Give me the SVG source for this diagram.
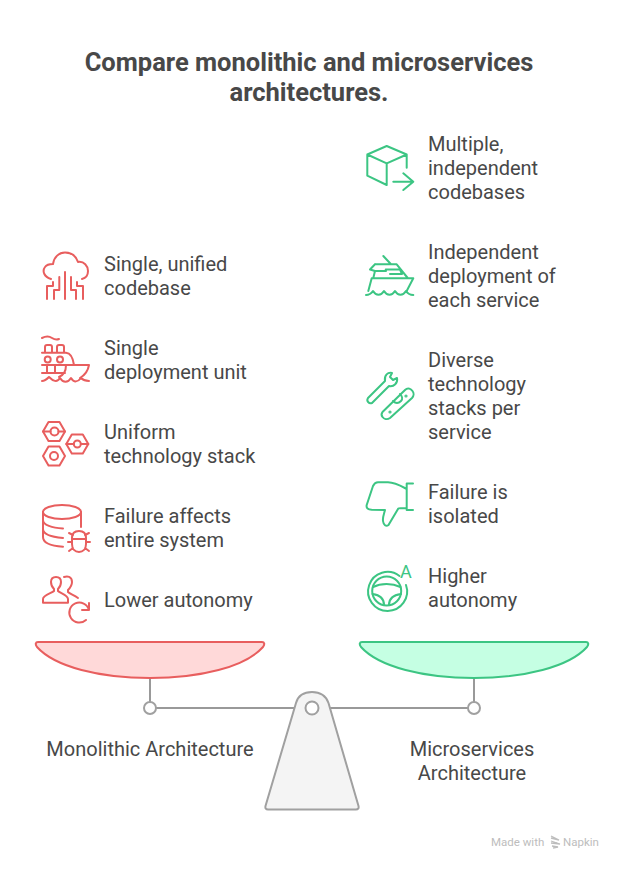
<svg xmlns="http://www.w3.org/2000/svg" width="624" height="869" viewBox="0 0 624 869">
<style>
text{font-family:Roboto,"Liberation Sans",sans-serif;fill:#484848;font-size:20px}
.t{font-size:25.5px;font-weight:700;text-anchor:middle}
.c{text-anchor:middle}
.r{fill:none;stroke:#e85e5e;stroke-width:2;stroke-linecap:round;stroke-linejoin:round}
.g{fill:none;stroke:#3cc583;stroke-width:2;stroke-linecap:round;stroke-linejoin:round}
.b{stroke:#999;stroke-width:2;fill:none}
.k{stroke:#a0a0a0;stroke-width:2;fill:#fff}
</style>
<rect width="624" height="869" fill="#fff"/>
<g id="title"><text class="t" x="309" y="71">Compare monolithic and microservices</text><text class="t" x="309" y="101">architectures.</text></g>

<g id="connectors">
<path class="b" d="M150 678V702M474 678V702M156 708H296M328 708H468"/>
</g>

<g id="pan-left"><path d="M38 642H262C264.500 642 265 644.500 263 647C245 667 200 678 150 678C100 678 55 667 37 647C35 644.500 35.500 642 38 642Z" fill="#ffd9d9" stroke="#e85e5e" stroke-width="2"/></g>
<g id="pan-right"><path d="M362 642H586C588.500 642 589 644.500 587 647C569 667 524 678 474 678C424 678 379 667 361 647C359 644.500 359.500 642 362 642Z" fill="#c5ffe3" stroke="#3cc583" stroke-width="2"/></g>
<g id="pivot-left"><circle class="k" cx="150" cy="708" r="6"/></g>
<g id="pivot-right"><circle class="k" cx="474" cy="708" r="6"/></g>
<g id="fulcrum"><path d="M296 703C298 696 304 692 312 692C320 692 326 696 328.500 703L358.500 806C359 808.500 358 809.500 356 809.500H268C266 809.500 265 808.500 265.500 806Z" fill="#f4f4f4" stroke="#a0a0a0" stroke-width="2" stroke-linejoin="round"/><circle class="k" cx="312" cy="708" r="6.500"/></g>
<g id="label-left"><text class="c" x="150" y="756">Monolithic Architecture</text></g>
<g id="label-right"><text class="c" x="472" y="756">Microservices</text><text class="c" x="472" y="780">Architecture</text></g>

<g id="m1"><g class="r"><path d="M51 279C44 277 42 271 45 267C47 264 50 264 53 264C54 257 59 252.500 65 252.500C71 252.500 76 256 78 262C84 261 88 266 88 271C88 275 86 278 82 279"/><path d="M65 272V299M59.300 277V290H54V299M53 282V286H47V299M71 277V290H76V299M77 282V286H83V299"/></g><text x="104" y="271">Single, unified</text><text x="104" y="295">codebase</text></g>

<g id="m2"><g class="r"><path d="M42 338C46 336 49 336 52 338C55 340 57 340 59 339"/><path d="M42 352.700H66C71 353 73 358 74 365M45 352.700V347C45 345.500 46 345 47 345H50C51.500 345 52 346 52 347V352.700M57 352.700V347C57 345.500 58 345 59 345H62C63 345 64 346 64 347V352.700"/><circle cx="47.700" cy="359.500" r="3"/><circle cx="60" cy="359.500" r="3"/><path d="M42 365H89C88 371 85 375 80 378M42 373H65M47 365V373M55 365V373M66 365C66 370 64 375 59 377"/><path d="M42 381C45 381 47 379 49 377C53 381 57 383 60 378C63 383 68 383 71 378C74 383 78 382 81 378C83 380 86 381 89 381"/></g><text x="104" y="355">Single</text><text x="104" y="379">deployment unit</text></g>

<g id="m3"><g class="r"><path d="M43 431.500L48.500 422H59.500L65 431.500L59.500 441H48.500ZM66.300 444L71.800 434.500H82.800L88.300 444L82.800 453.500H71.800ZM43 456L48.500 446.500H59.500L65 456L59.500 465.500H48.500Z"/><circle cx="54.500" cy="431.500" r="4"/><circle cx="77.300" cy="444" r="3.500"/><circle cx="54" cy="456" r="4"/><path d="M43 431.500H50.500M58.500 431.500L65 431.500M66.300 444H73.800M80.800 444H88.300"/></g><text x="104" y="439">Uniform</text><text x="104" y="463">technology stack</text></g>

<g id="m4"><g class="r"><ellipse cx="62" cy="512" rx="19" ry="7"/><path d="M43 512V537C43 543 52 546 63 546.700M43 520C43 525 52 528 63 528.500M43 529C43 534 52 537 63 538M81 512V527"/><path d="M72 538C72 533 75 531 79 531C83 531 86 533 86 538V544C86 549 83 552 79 552C75 552 72 549 72 544ZM72 539H86M69 533L73 535M89 533L85 535M68 542H72M90 542H86M69 551L73 548M89 551L85 548"/></g><text x="104" y="523">Failure affects</text><text x="104" y="547">entire system</text></g>

<g id="m5"><g class="r"><path d="M43 602.700H68V599C68 595 60 593 58 591V589C60 587 61 585 61 582C61 578 59 577 56 577C53 577 51 578 51 582C51 585 52 587 54 589V591C52 593 43 595 43 599Z"/><path d="M64 577C67 576 72 576 72 582C72 586 70 588 68 590V592C70 594 74 595 78 598"/><path d="M89 610A10 10 0 1 0 86 620M89 603V610H82" /></g><text x="104" y="607">Lower autonomy</text></g>

<g id="s1"><g class="g"><path d="M386.700 146L367.300 154.500V175.700L386.700 185V163.300L367.300 154.500M386.700 163.300L406.700 154.500L386.700 146M406.700 154.500V167.700M393.300 181.700H413.300M403.300 173.300L413.300 181.700L403.300 190"/></g><text x="428" y="151">Multiple,</text><text x="428" y="175">independent</text><text x="428" y="199">codebases</text></g>

<g id="s2"><g class="g"><path d="M383.300 256L391 264.300M375 264.300H396.700L407.700 278M375 264.300L370 269.500L375 271L373.300 278M375 271H386M385.700 269.500H400L402 274H390M371.700 278.300H413.300L406.700 291M371.700 278.300L368.300 291"/><path d="M366 295C369 295 371 294 373 291C376 296 381 296 384 291C387 296 392 296 395 291C398 296 403 296 406 291C408 294 410 295 413.300 295"/></g><text x="428" y="259">Independent</text><text x="428" y="283">deployment of</text><text x="428" y="307">each service</text></g>

<g id="s3"><g class="g"><path d="M368 398L385 381C384 375 388 372 392 373L390 377L393 380L397 378C398 383 394 387 389 386L372 403C369 404 366 401 368 398Z"/><path d="M382.500 412L405 390C408 387 411 389 412.500 391C414 393 414 396 412 398L390 418C387 420 384 419 382.500 417C381 415 381 414 382.500 412Z"/><path d="M393 401C396 404 399 403 401 401C403 399 402 396 400 394"/><circle cx="390" cy="412" r=".6"/><circle cx="406" cy="396" r=".6"/></g><text x="428" y="367">Diverse</text><text x="428" y="391">technology</text><text x="428" y="415">stacks per</text><text x="428" y="439">service</text></g>

<g id="s4"><g class="g"><path d="M413 483.500H406.700V510H413M406.700 489C401 486 395 482.500 388 482.300H378C375 482.300 374 484 373 486L366.700 505C366 508 368 509.500 371.700 509.700L385 510C384 514 382.500 517 383 521C383.500 525 386 527 388.500 525L398.300 508.500C399 508 401 508 406.700 508"/></g><text x="428" y="499">Failure is</text><text x="428" y="523">isolated</text></g>

<g id="s5"><g class="g"><path d="M406 585A19.500 19.500 0 1 1 399.500 576"/><circle cx="386.700" cy="591" r="14.500"/><path d="M373 587C381 583 392 583 400.500 587M372.500 594C380 595 384 598 384 605M401 594C393 595 389 598 389 605"/></g><text x="400" y="578" style="font-size:18px;fill:#3cc583">A</text><text x="428" y="583">Higher</text><text x="428" y="607">autonomy</text></g>

<g id="footer"><text x="491" y="846" style="font-size:11.500px;fill:#bdbdbd">Made with</text><path d="M551 836L559 840L551 838M551 841L560 844L551 843M552 846L558 847L553 848" fill="none" stroke="#bdbdbd" stroke-width="1.300"/><text x="563" y="846" style="font-size:11.500px;fill:#bdbdbd">Napkin</text></g>
</svg>
